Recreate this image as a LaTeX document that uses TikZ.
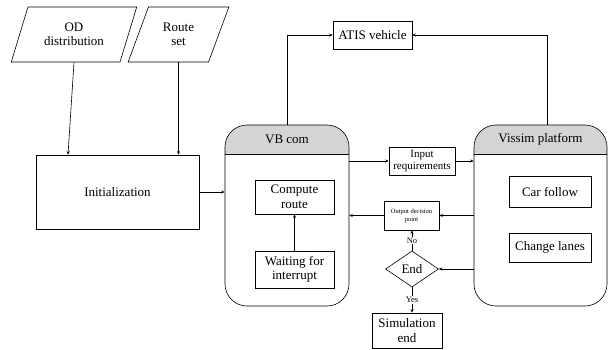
\documentclass[tikz,border=0pt]{standalone}
\usepackage{fontspec}
\setmainfont{Liberation Serif}
\usetikzlibrary{shapes.geometric,arrows.meta}

\tikzset{
  bloque/.style={draw, line width=0.6pt, align=center, inner sep=1pt,
    font=\fontsize{13}{14.5}\selectfont},
  entrada/.style={bloque, trapezium, trapezium left angle=66,
    trapezium right angle=114, trapezium stretches=true, minimum height=55pt},
  decision/.style={bloque, diamond, aspect=1.5, inner sep=0pt,
    minimum width=53pt, minimum height=36pt},
  panel/.style={draw, line width=0.6pt, rounded corners=22pt,
    minimum height=181pt,
    path picture={
      \fill[black!17, sharp corners] (path picture bounding box.north west)
        rectangle ([yshift=-29pt]path picture bounding box.north east);
      \draw[line width=0.6pt, sharp corners]
        ([yshift=-29pt]path picture bounding box.north west)
        -- ([yshift=-29pt]path picture bounding box.north east);}},
  titulo/.style={font=\fontsize{13}{14.5}\selectfont, inner sep=0pt},
  flecha/.style={-{Stealth[length=3.5pt,width=3pt]}, line width=0.6pt},
  etiqueta/.style={font=\fontsize{8.5}{9}\selectfont, fill=white, inner sep=1pt}
}

\begin{document}
\begin{tikzpicture}[x=1pt, y=-1pt]
        \useasboundingbox (0,0) rectangle (608,350);

        % Datos de entrada
        \node[entrada, minimum width=126pt] (od) at (74,34.5) {OD\\distribution};
        \node[entrada, minimum width=101pt] (rs) at (178.5,34.5) {Route\\set};

        % Inicializacion
        \node[bloque, minimum width=163pt, minimum height=74pt] (init) at (117.5,192) {Initialization};

        % Contenedores VB com y Vissim
        \node[panel, minimum width=124pt] (vb) at (287,215.5) {};
        \node[panel, minimum width=133pt] (vs) at (540.5,215.5) {};
        \node[titulo] (vbt) at ([yshift=-14.5pt]vb.north) {VB com};
        \node[titulo] (vst) at ([yshift=-14.5pt]vs.north) {Vissim platform};

        % Bloques dentro de VB com
        \node[bloque, minimum width=79pt, minimum height=34pt] (comp) at (294.5,197) {Compute\\route};
        \node[bloque, minimum width=79pt, minimum height=37pt] (wait) at (294.5,269.5) {Waiting for\\interrupt};

        % Bloques dentro de Vissim
        \node[bloque, minimum width=82pt, minimum height=31pt] (cf) at (550,191.5) {Car follow};
        \node[bloque, minimum width=82pt, minimum height=29pt] (cl) at (550,247.5) {Change lanes};

        % Bloques intermedios
        \node[bloque, minimum width=79pt, minimum height=28pt] (atis) at (372.5,35) {ATIS vehicle};
        \node[bloque, minimum width=66pt, minimum height=28pt, font=\fontsize{11}{11.5}\selectfont] (inp) at (422,161) {Input\\requirements};
        \node[bloque, minimum width=55pt, minimum height=29pt, font=\fontsize{6.5}{8}\selectfont] (outp) at (411.5,215.5) {Output decision\\point};
        \node[decision] (fin) at (412,269) {End};
        \node[bloque, minimum width=70pt, minimum height=35pt] (sim) at (407,330.5) {Simulation\\end};

        % Conexiones
        \draw[flecha] (od.south) -- ([xshift=-49.5pt]init.north);
        \draw[flecha] (rs.south) -- (rs.south |- init.north);
        \draw[flecha] (init.east) -- (vb.west |- init.east);
        \draw[flecha] (vb.north) |- (atis.west);
        \draw[flecha] ([xshift=6.5pt]vs.north) |- (atis.east);
        \draw[flecha] (vb.east |- inp.west) -- (inp.west);
        \draw[flecha] (inp.east) -- (vs.west |- inp.east);
        \draw[flecha] (vs.west |- outp.east) -- (outp.east);
        \draw[flecha] (outp.west) -- (vb.east |- outp.west);
        \draw[flecha] (vs.west |- fin.east) -- (fin.east);
        \draw[flecha] (wait.north) -- (comp.south);
        \draw[flecha] (fin.north) -- node[etiqueta] {No} (fin.north |- outp.south);
        \draw[flecha] (fin.south) -- node[etiqueta] {Yes} (fin.south |- sim.north);
    \end{tikzpicture}
\end{document}
